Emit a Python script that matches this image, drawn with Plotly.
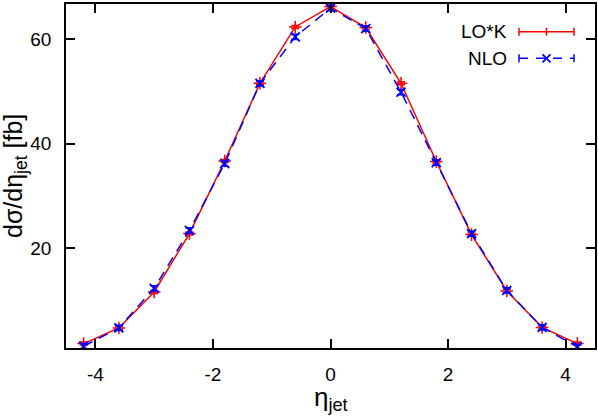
import plotly.graph_objects as go

# eta_jet bin centres and cross sections [fb]
eta = [-4.2, -3.6, -3.0, -2.4, -1.8, -1.2, -0.6, 0.0, 0.6, 1.2, 1.8, 2.4, 3.0, 3.6, 4.2]
lo_k = [1.7, 4.7, 11.6, 22.8, 36.7, 51.6, 62.4, 66.3, 62.3, 51.6, 36.6, 22.6, 11.8, 4.8, 1.7]
lo_k_err = [0.3] * 15
nlo = [1.2, 4.7, 12.3, 23.4, 36.2, 51.6, 60.5, 66.0, 62.1, 49.9, 36.4, 22.8, 11.9, 4.8, 1.1]
nlo_err = [0.5] * 15

x_ticks = [-4, -2, 0, 2, 4]
x_labels = ["-4", "-2", "0", "2", "4"]
y_ticks = [20, 40, 60]

FONT = "Liberation Sans, Arial, Helvetica, sans-serif"
RED = "#ff0000"
BLUE = "#0000ff"

fig = go.Figure()
fig.add_trace(go.Scatter(
    x=eta, y=lo_k, name="LO*K", mode="lines+markers",
    line=dict(color=RED, width=1.5),
    marker=dict(symbol="cross-thin", size=9, line=dict(color=RED, width=1.5)),
    error_y=dict(type="data", array=lo_k_err, color=RED, thickness=1.5, width=4),
))
fig.add_trace(go.Scatter(
    x=eta, y=nlo, name="NLO", mode="lines+markers",
    line=dict(color=BLUE, width=1.5, dash="10px,7px"),
    marker=dict(symbol="x-thin", size=9, line=dict(color=BLUE, width=1.8)),
    error_y=dict(type="data", array=nlo_err, color=BLUE, thickness=1.5, width=4),
))

# hand-drawn gnuplot style key (text left of sample)
W, H, L, B = 529.0, 344.0, 66.0, 348.0
def px(x):
    return (x - L) / W
def py(y):
    return (B - y) / H

shapes = []
annotations = []
rows = [("LO*K", 31.7, RED, "solid"), ("NLO", 58.3, BLUE, "dash")]
for label, yy, col, dash in rows:
    annotations.append(dict(text=label, x=px(509), y=py(yy), xref="paper", yref="paper",
                            xanchor="right", yanchor="middle", showarrow=False,
                            font=dict(size=19, color="black", family=FONT)))
    shapes.append(dict(type="line", xref="paper", yref="paper", x0=px(519), x1=px(574),
                       y0=py(yy), y1=py(yy), line=dict(color=col, width=1.5,
                       dash="solid" if dash == "solid" else "9px,8px")))
    for xc in (519, 574):
        shapes.append(dict(type="line", xref="paper", yref="paper", x0=px(xc), x1=px(xc),
                           y0=py(yy - 4), y1=py(yy + 4), line=dict(color=col, width=1.5)))
    if label == "LO*K":
        shapes.append(dict(type="line", xref="paper", yref="paper", x0=px(546.5), x1=px(546.5),
                           y0=py(yy - 4), y1=py(yy + 4), line=dict(color=col, width=1.5)))
    else:
        shapes.append(dict(type="line", xref="paper", yref="paper", x0=px(542.5), x1=px(550.5),
                           y0=py(yy - 4), y1=py(yy + 4), line=dict(color=col, width=1.8)))
        shapes.append(dict(type="line", xref="paper", yref="paper", x0=px(542.5), x1=px(550.5),
                           y0=py(yy + 4), y1=py(yy - 4), line=dict(color=col, width=1.8)))

# axis titles
annotations.append(dict(text="dσ/dη<sub>jet</sub> [fb]", x=0, y=0.5, xref="paper", yref="paper",
                        xshift=-51, textangle=-90, xanchor="center", yanchor="middle",
                        showarrow=False, font=dict(size=25, color="black", family=FONT)))
annotations.append(dict(text="η<sub>jet</sub>", x=0.5, y=0, xref="paper", yref="paper",
                        yshift=-50, xanchor="center", yanchor="middle",
                        showarrow=False, font=dict(size=26, color="black", family=FONT)))

fig.update_layout(
    width=598, height=416,
    margin=dict(l=66, r=3, t=4, b=68),
    paper_bgcolor="white", plot_bgcolor="white",
    showlegend=False,
    font=dict(family=FONT, size=19, color="black"),
    shapes=shapes, annotations=annotations,
)
fig.update_xaxes(range=[-4.5, 4.5], tickvals=x_ticks, ticktext=x_labels, ticks="inside",
                 ticklen=9, tickwidth=1.5, tickcolor="black", showline=True,
                 linecolor="black", linewidth=1.5, mirror="ticks", showgrid=False,
                 zeroline=False, ticklabelstandoff=8, automargin=False)
fig.update_yaxes(range=[0.86, 66.8], tickvals=y_ticks, ticks="inside", ticklen=9,
                 tickwidth=1.5, tickcolor="black", showline=True, linecolor="black",
                 linewidth=1.5, mirror="ticks", showgrid=False, zeroline=False,
                 ticklabelstandoff=9, automargin=False)

fig.write_html("out.html", config={"displayModeBar": False},
               post_script="document.body.style.margin='0';")
